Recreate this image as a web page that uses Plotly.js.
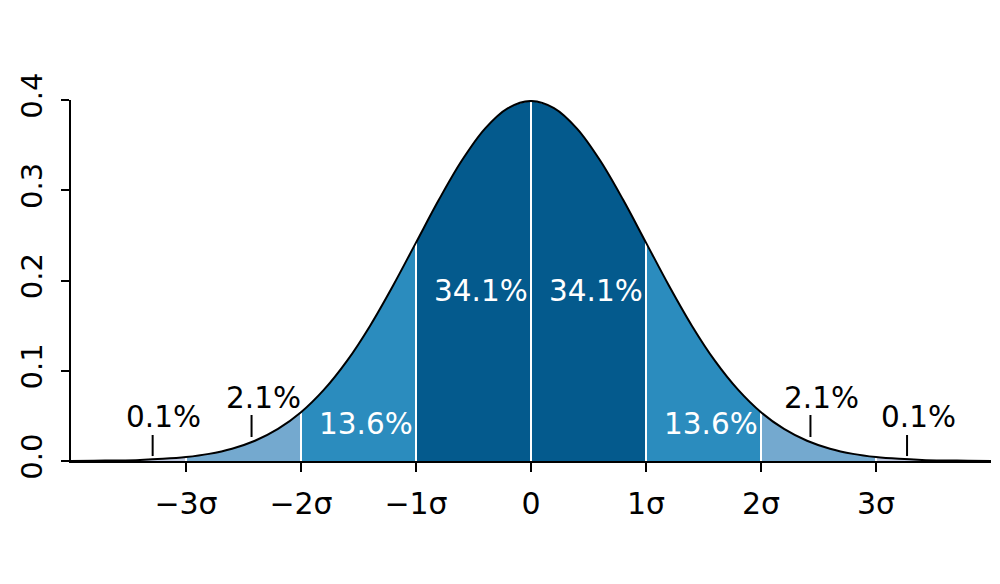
<!DOCTYPE html>
<html>
<head>
<meta charset="utf-8">
<script src="https://cdn.plot.ly/plotly-3.0.1.min.js"></script>
<style>html,body{margin:0;padding:0;background:#fff;}#chart{width:1000px;height:584px;}</style>
</head>
<body>
<div id="chart"></div>
<script>
// Density curve (x in sigma units)
const xs = [-4.0,-3.8,-3.6,-3.4,-3.2,-3.0,-2.8,-2.6,-2.4,-2.2,-2.0,-1.8,-1.6,-1.4,-1.2,-1.0,-0.8,-0.6,-0.4,-0.2,
            0.0,0.2,0.4,0.6,0.8,1.0,1.2,1.4,1.6,1.8,2.0,2.2,2.4,2.6,2.8,3.0,3.2,3.4,3.6,3.8,4.0];
const ys = [0.0001,0.0003,0.0006,0.0012,0.0024,0.0044,0.0079,0.0136,0.0224,0.0355,0.0540,0.0790,0.1109,0.1497,0.1942,0.2420,0.2897,0.3332,0.3683,0.3910,
            0.3989,0.3910,0.3683,0.3332,0.2897,0.2420,0.1942,0.1497,0.1109,0.0790,0.0540,0.0355,0.0224,0.0136,0.0079,0.0044,0.0024,0.0012,0.0006,0.0003,0.0001];
// Band edges and band colours
const bandEdges = [-4,-3,-2,-1,0,1,2,3,4];
const bandColors = ['#bdc9e1','#74a9cf','#2b8cbe','#045a8d','#045a8d','#2b8cbe','#74a9cf','#bdc9e1'];
// Percent labels
const pctInside = ['13.6%','34.1%','34.1%','13.6%'];
const pctTail = ['0.1%','2.1%','2.1%','0.1%'];
// Axis ticks
const xTickVals = [-3,-2,-1,0,1,2,3];
const xTickText = ['\u22123\u03c3','\u22122\u03c3','\u22121\u03c3','0','1\u03c3','2\u03c3','3\u03c3'];
const yTickVals = [0,0.1,0.2,0.3,0.4];

const FONT = 'DejaVu Sans, sans-serif';
function idx(v){ return xs.findIndex(x => Math.abs(x - v) < 1e-9); }

const traces = [];
for (let i = 0; i < bandEdges.length - 1; i++) {
  const a = idx(bandEdges[i]), b = idx(bandEdges[i+1]);
  traces.push({
    x: xs.slice(a, b + 1), y: ys.slice(a, b + 1),
    type: 'scatter', mode: 'lines', line: {width: 0, shape: 'spline', smoothing: 1},
    fill: 'tozeroy', fillcolor: bandColors[i], hoverinfo: 'skip', showlegend: false
  });
}
// white separators
for (let e = 1; e < bandEdges.length - 1; e++) {
  const k = idx(bandEdges[e]);
  traces.push({x: [xs[k], xs[k]], y: [0, ys[k]], type: 'scatter', mode: 'lines',
    line: {color: '#ffffff', width: 2}, hoverinfo: 'skip', showlegend: false});
}
// curve
traces.push({x: xs, y: ys, type: 'scatter', mode: 'lines',
  line: {color: '#000000', width: 2, shape: 'spline', smoothing: 1}, hoverinfo: 'skip', showlegend: false});

const annotations = [];
const insideEdges = [-1, 0, 1, 2];
const insideY = [0.041, 0.188, 0.188, 0.041];
for (let i = 0; i < 4; i++) {
  annotations.push({x: insideEdges[i], y: insideY[i], xanchor: 'right', yanchor: 'middle', xshift: -1,
    text: pctInside[i], showarrow: false, font: {family: FONT, size: 29.5, color: '#ffffff'}});
}
const tailX = [-3.196, -2.322, 2.526, 3.37];
const tailY = [0.0488, 0.0698, 0.0698, 0.0488];
for (let i = 0; i < 4; i++) {
  annotations.push({x: tailX[i], y: tailY[i], xanchor: 'center', yanchor: 'middle',
    text: pctTail[i], showarrow: false, font: {family: FONT, size: 29.5, color: '#000000'}});
}
const pointerX = [-3.29, -2.43, 2.43, 3.27];
const pointerY0 = [0.0055, 0.0266, 0.0266, 0.0055];
const pointerY1 = [0.0288, 0.0510, 0.0510, 0.0288];
const shapes = pointerX.map((px, i) => ({type: 'line', xref: 'x', yref: 'y', x0: px, x1: px,
  y0: pointerY0[i], y1: pointerY1[i], line: {color: '#000000', width: 2}}));

const layout = {
  width: 1000, height: 584,
  margin: {l: 71, r: 9, t: 100, b: 123},
  paper_bgcolor: '#ffffff', plot_bgcolor: '#ffffff',
  font: {family: FONT, size: 29, color: '#000000'},
  showlegend: false,
  xaxis: {range: [-4, 4], showgrid: false, zeroline: false, showline: true, linecolor: '#000000', linewidth: 2,
    ticks: 'outside', ticklen: 9, tickwidth: 2, tickcolor: '#000000',
    tickmode: 'array', tickvals: xTickVals, ticktext: xTickText, ticklabelstandoff: 6,
    tickfont: {family: FONT, size: 30, color: '#000000'}},
  yaxis: {range: [0, 0.4], showgrid: false, zeroline: false, showline: true, linecolor: '#000000', linewidth: 2,
    ticks: 'outside', ticklen: 8, tickwidth: 2, tickcolor: '#000000',
    tickmode: 'array', tickvals: yTickVals, tickformat: '.1f', tickangle: -90, ticklabelstandoff: 7,
    tickfont: {family: FONT, size: 29, color: '#000000'}},
  annotations: annotations,
  shapes: shapes
};
Plotly.newPlot('chart', traces, layout, {displayModeBar: false, staticPlot: true});
</script>
</body>
</html>
